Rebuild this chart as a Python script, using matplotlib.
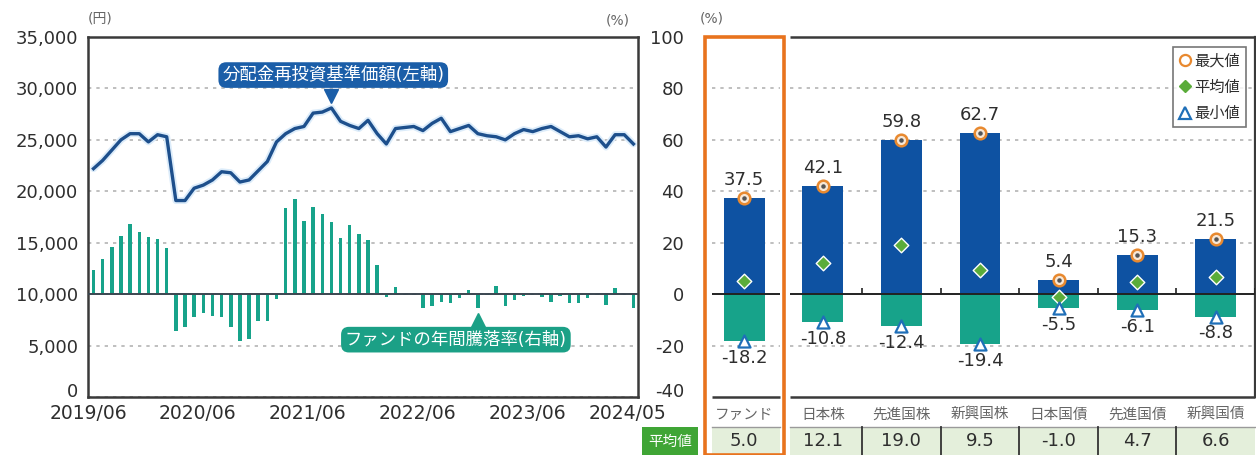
import numpy as np
import matplotlib
matplotlib.use("Agg")
import matplotlib.pyplot as plt
from matplotlib.lines import Line2D
from matplotlib.patches import Rectangle
from matplotlib.transforms import blended_transform_factory

plt.rcParams['font.family'] = ['DejaVu Sans', 'Noto Sans CJK JP']

# left chart: monthly data 2019/06 - 2024/05
nav = [22200, 23000, 24000, 25000, 25600, 25600, 24800, 25500, 25300, 19100,
       19100, 20300, 20600, 21100, 21900, 21800, 20900, 21100, 22000, 22900,
       24800, 25600, 26100, 26300, 27600, 27700, 28100, 26800, 26400, 26100,
       26900, 25600, 24600, 26100, 26200, 26300, 25900, 26600, 27100, 25800,
       26100, 26400, 25600, 25400, 25300, 25000, 25600, 26000, 25800, 26100,
       26300, 25800, 25300, 25400, 25100, 25300, 24300, 25500, 25500, 24600]
ret = [9.3, 13.8, 18.3, 22.6, 27.1, 24.3, 22.2, 21.3, 18.1,
       -14.2, -12.9, -8.8, -7.5, -8.4, -8.8, -12.7, -18.1, -17.4, -10.6, -10.6,
       -1.9,
       33.6, 37.0, 28.4, 34.0, 31.2, 27.9, 22.0, 26.9, 23.3, 21.1, 11.4,
       -1.3, 2.6, -0.3, -0.3, -5.4, -4.5, -3.2, -3.4, -1.6, 1.7, -5.2, -0.3,
       3.2, -4.5, -2.3, -0.9, -0.5, -1.2, -3.0, -0.9, -3.6, -3.6, -1.4, -0.3,
       -4.1, 2.3, -0.3, -5.5]
xtick_idx = [0, 12, 24, 36, 48, 59]
xtick_labels = ['2019/06', '2020/06', '2021/06', '2022/06', '2023/06', '2024/05']
yen_ticks = [0, 5000, 10000, 15000, 20000, 25000, 30000, 35000]

# right chart
cats = ['ファンド', '日本株', '先進国株', '新興国株', '日本国債', '先進国債', '新興国債']
max_v = [37.5, 42.1, 59.8, 62.7, 5.4, 15.3, 21.5]
avg_v = [5.0, 12.1, 19.0, 9.5, -1.0, 4.7, 6.6]
min_v = [-18.2, -10.8, -12.4, -19.4, -5.5, -6.1, -8.8]
pct_ticks = [-40, -20, 0, 20, 40, 60, 80, 100]

BLUE = '#0e52a2'
TEAL = '#17a38a'
LINE = '#1d4f8c'
GRID = '#b4b4b4'
TXT = '#2e2e2e'

W, H = 1256, 455
fig = plt.figure(figsize=(W / 100, H / 100), dpi=100)


def rect(x0, y0, x1, y1):
    return [x0 / W, 1 - y1 / H, (x1 - x0) / W, (y1 - y0) / H]


# ---------- left chart ----------
ax = fig.add_axes(rect(88, 37, 638, 397))
axr = ax.twinx()
x = np.arange(len(nav))

ax.set_xlim(-0.5, len(nav) - 0.5)
ax.set_ylim(0, 35000)
axr.set_ylim(-40, 100)
ax.set_yticks(yen_ticks)
ax.set_yticklabels([f'{v:,}' for v in yen_ticks], fontsize=13, color=TXT)
ax.get_yticklabels()[0].set_verticalalignment('baseline')
ax.set_xticks(np.array(xtick_idx) - 0.6)
ax.set_xticklabels(xtick_labels, fontsize=13.5, color=TXT)
ax.tick_params(axis='x', length=0, pad=5)
ax.tick_params(axis='y', length=0, pad=7)
axr.set_yticks([])
for s in ax.spines.values():
    s.set_color('#3a3a3a')
    s.set_linewidth(1.8)
for s in axr.spines.values():
    s.set_visible(False)
ax.yaxis.grid(True, color=GRID, linestyle=(0, (2, 3)), linewidth=1.2)
ax.set_axisbelow(True)

axr.bar(x, ret, width=0.38, color=TEAL, zorder=2)
axr.axhline(0, color='#3b4650', linewidth=1.4, zorder=3)
ax.plot(x, nav, color='#dcecfa', linewidth=5, zorder=3, solid_capstyle='round')
ax.plot(x, nav, color=LINE, linewidth=2.4, zorder=3)

ax.text(26.2, 31300, '分配金再投資基準価額(左軸)', ha='center', va='center',
        color='white', fontsize=12.5, zorder=5,
        bbox=dict(boxstyle='round,pad=0.22,rounding_size=0.45', fc='#1b5ea8', ec='none'))
ax.plot(26, 29300, marker='v', ms=10, color='#1b5ea8', zorder=5)
axr.text(39.6, -17.7, 'ファンドの年間騰落率(右軸)', ha='center', va='center',
         color='white', fontsize=12.5, zorder=5,
         bbox=dict(boxstyle='round,pad=0.22,rounding_size=0.45', fc='#1ba086', ec='none'))
axr.plot(42, -10.0, marker='^', ms=10, color='#1ba086', zorder=5)

fig.text(100 / W, 1 - 18 / H, '(円)', fontsize=10, color='#666', ha='center', va='center')
fig.text(618 / W, 1 - 20 / H, '(%)', fontsize=10, color='#666', ha='center', va='center')
fig.text(712 / W, 1 - 18 / H, '(%)', fontsize=10, color='#666', ha='center', va='center')

# ---------- right chart ----------
ax2 = fig.add_axes(rect(705, 37, 1255, 397))
xc = np.arange(len(cats))
ax2.set_xlim(-0.5, len(cats) - 0.5)
ax2.set_ylim(-40, 100)
for name, s in ax2.spines.items():
    s.set_visible(name == 'right')
ax2.spines['right'].set_color('#3a3a3a')
ax2.spines['right'].set_linewidth(1.6)
ax2.set_yticks(pct_ticks)
ax2.set_yticklabels([str(v) for v in pct_ticks], fontsize=13, color=TXT)
ax2.get_yticklabels()[0].set_verticalalignment('baseline')
ax2.tick_params(axis='y', length=0, pad=15)
ax2.set_xticks(xc)
ax2.set_xticklabels(cats, fontsize=10.5, color='#666')
ax2.tick_params(axis='x', length=0, pad=7)

segs = [(-0.41, 0.45), (0.58, 6.5)]
for a, b in segs:
    ax2.hlines([80, 60, 40, 20, -20], a, b, color=GRID, linestyle=(0, (2, 3)),
               linewidth=1.2, zorder=1)
    ax2.hlines(0, a, b, color='#222', linewidth=1.4, zorder=3)
    ax2.hlines(-40, a, b, color='#3a3a3a', linewidth=1.8, clip_on=False, zorder=3)
ax2.hlines(100, segs[1][0], segs[1][1], color='#3a3a3a', linewidth=1.8, clip_on=False)
ax2.vlines(xc[1:] + 0.5, 0, 2.5, color='#222', linewidth=1.2, zorder=3)

ax2.bar(xc, max_v, width=0.52, color=BLUE, zorder=2)
ax2.bar(xc, min_v, width=0.52, color=TEAL, zorder=2)

ax2.scatter(xc, max_v, marker='o', s=70, facecolor='#f7e7d6', edgecolor='#e8892f',
            linewidths=1.8, zorder=4)
ax2.scatter(xc, max_v, marker='o', s=5, color='#555', zorder=5)
ax2.scatter(xc, avg_v, marker='D', s=55, color='#5aac3a', edgecolor='white',
            linewidths=1.0, zorder=4)
ax2.scatter(xc, min_v, marker='^', s=75, facecolor='white', edgecolor='#1f6fb8',
            linewidths=1.6, zorder=4)
for i in xc:
    ax2.text(i, max_v[i] + 7, f'{max_v[i]:.1f}', ha='center', va='center',
             fontsize=13, color=TXT, zorder=5)
    ax2.text(i, min_v[i] - 6.5, f'{min_v[i]:.1f}', ha='center', va='center',
             fontsize=13, color=TXT, zorder=5)

handles = [
    Line2D([], [], ls='', marker='o', ms=8, mfc='white', mec='#e8892f', mew=1.6),
    Line2D([], [], ls='', marker='D', ms=6.5, color='#5aac3a'),
    Line2D([], [], ls='', marker='^', ms=8, mfc='white', mec='#1f6fb8', mew=1.6),
]
leg = ax2.legend(handles, ['最大値', '平均値', '最小値'], loc='upper right',
                 bbox_to_anchor=(0.984, 0.972), fontsize=11, frameon=True,
                 fancybox=False, edgecolor='#555', handlelength=0.8,
                 handletextpad=0.2, borderpad=0.4, labelspacing=0.75,
                 borderaxespad=0)
leg.get_frame().set_linewidth(1.2)
for t in leg.get_texts():
    t.set_color(TXT)

# table row (平均値) under the right chart
tr = blended_transform_factory(ax2.transData, fig.transFigure)
row_top = 1 - 427 / H
for a, b in segs:
    fig.add_artist(Rectangle((a, 0), b - a, row_top, transform=tr,
                             facecolor='#e4efdb', edgecolor='none'))
    fig.add_artist(Line2D([a, b], [row_top, row_top], transform=tr,
                          color='#9a9a9a', linewidth=1.0))
for xv in xc[1:-1] + 0.5:
    fig.add_artist(Line2D([xv, xv], [0, row_top], transform=tr,
                          color='#333', linewidth=1.3))
for i in xc:
    fig.text(i, row_top / 2, f'{avg_v[i]:.1f}', transform=tr, ha='center',
             va='center', fontsize=13, color=TXT)
fig.add_artist(Rectangle((642 / W, 0), 56 / W, row_top, transform=fig.transFigure,
                         facecolor='#3fa535', edgecolor='none'))
fig.text(670 / W, row_top / 2, '平均値', ha='center', va='center',
         fontsize=10.5, color='white')

# orange frame around the fund column
fig.add_artist(Rectangle((-0.5, 0), 1.0, 1 - 37 / H, transform=tr, fill=False,
                         edgecolor='#e8731e', linewidth=2.6, clip_on=False))

fig.savefig('out.png', dpi=100)
